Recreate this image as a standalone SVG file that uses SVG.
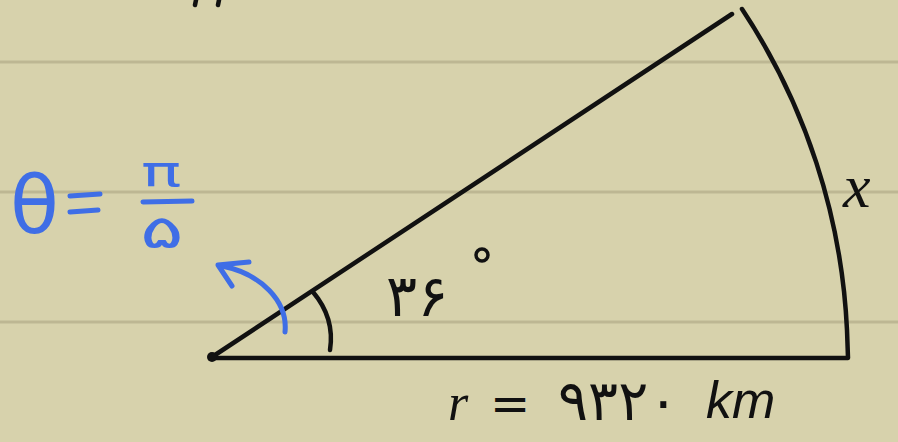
<svg xmlns="http://www.w3.org/2000/svg" width="898" height="442" viewBox="0 0 898 442">
<style>
.ink{fill:none;stroke:#111;stroke-width:4.5;stroke-linecap:round;stroke-linejoin:round}
.blue{fill:none;stroke:#3f6ee6;stroke-width:5;stroke-linecap:round;stroke-linejoin:round}
.rule{stroke:#bdb793;stroke-width:3}
.fa{font-family:"DejaVu Sans","Noto Sans",sans-serif;fill:#111}
.bt{font-family:"DejaVu Sans","Liberation Sans",sans-serif;fill:#3f6ee6}
</style>
<rect width="898" height="442" fill="#d7d2ac"/>
<g id="paper-rules">
<line class="rule" x1="0" y1="62" x2="898" y2="62"/>
<line class="rule" x1="0" y1="192" x2="898" y2="192"/>
<line class="rule" x1="0" y1="322" x2="898" y2="322"/>
</g>
<g id="top-marks">
<line class="ink" x1="196" y1="0" x2="195" y2="5" stroke-width="4"/>
<line class="ink" x1="219" y1="0" x2="218" y2="5" stroke-width="4"/>
</g>
<g id="sector">
<line class="ink" x1="212" y1="357" x2="732" y2="14"/>
<path class="ink" d="M742,9 A635,635 0 0 1 847,330 L848,358 L212,358"/>
<circle cx="212" cy="357" r="5" fill="#111"/>
</g>
<g id="angle-mark">
<path class="ink" d="M313,292 Q335,318 330,350" stroke-width="4"/>
<text class="fa" x="386" y="316" font-size="58" letter-spacing="10" direction="ltr">۳۶</text>
<circle cx="482" cy="255" r="6" fill="none" stroke="#111" stroke-width="3.5"/>
</g>
<g id="arc-label">
<text x="843" y="207" font-family="Liberation Serif, serif" font-style="italic" font-size="62" fill="#111">x</text>
</g>
<g id="radius-label">
<text x="448" y="420" font-family="Liberation Serif, serif" font-style="italic" font-size="52" fill="#111">r</text>
<text class="fa" x="490" y="420" font-size="48">=</text>
<text class="fa" x="558" y="420" font-size="56" letter-spacing="10" direction="ltr">۹۳۲۰</text>
<text x="706" y="418" font-family="Liberation Sans, sans-serif" font-style="italic" font-size="52" fill="#111">km</text>
</g>
<g id="theta">
<text class="bt" x="10" y="233" font-size="80">θ</text>
<line class="blue" x1="70" y1="196" x2="100" y2="194"/>
<line class="blue" x1="70" y1="212" x2="98" y2="210"/>
<text class="bt" font-size="42" transform="translate(141,186) scale(1.6,1)">π</text>
<line class="blue" x1="143" y1="202" x2="192" y2="201"/>
<text class="bt" font-size="48" direction="ltr" transform="translate(140,248) scale(1.7,0.95)">۵</text>
</g>
<g id="arrow">
<path class="blue" d="M285,332 C288,302 262,274 222,266"/>
<path class="blue" d="M249,262 L218,265 L232,286"/>
</g>
</svg>
